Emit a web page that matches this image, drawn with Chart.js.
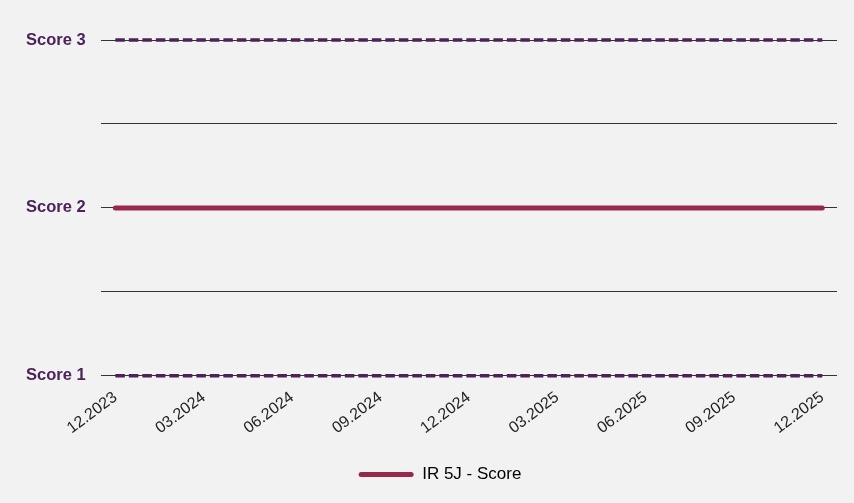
<!DOCTYPE html>
<html><head><meta charset="utf-8">
<script src="https://cdn.jsdelivr.net/npm/chart.js@4/dist/chart.umd.min.js"></script>
<style>html,body{margin:0;padding:0;background:#f2f2f2;}#wrap{width:854px;height:503px;}</style>
</head><body><div id="wrap"><canvas id="c" width="854" height="503"></canvas></div>
<script>
const months = ["12.2023","01.2024","02.2024","03.2024","04.2024","05.2024","06.2024","07.2024","08.2024","09.2024","10.2024","11.2024","12.2024","01.2025","02.2025","03.2025","04.2025","05.2025","06.2025","07.2025","08.2025","09.2025","10.2025","11.2025","12.2025"];
const scoreValues = [2,2,2,2,2,2,2,2,2,2,2,2,2,2,2,2,2,2,2,2,2,2,2,2,2];
const upperBound = [3,3,3,3,3,3,3,3,3,3,3,3,3,3,3,3,3,3,3,3,3,3,3,3,3];
const lowerBound = [1,1,1,1,1,1,1,1,1,1,1,1,1,1,1,1,1,1,1,1,1,1,1,1,1];
const yTickLabels = {1:"Score 1",2:"Score 2",3:"Score 3"};
const seriesName = "IR 5J - Score";

const bg = {id:'bg',beforeDraw(c){const x=c.ctx;x.save();x.fillStyle='#f2f2f2';x.fillRect(0,0,c.width,c.height);x.restore();}};
const legendShift = {id:'legendShift',afterLayout(c){if(c.legend){c.legend.left+=16;c.legend.right+=16;}}};

new Chart(document.getElementById('c'),{
  type:'line',
  data:{labels:months,datasets:[
    {label:seriesName,data:scoreValues,borderColor:'#98294b',backgroundColor:'#98294b',borderWidth:5,borderCapStyle:'round',pointRadius:0,order:1,clip:false},
    {label:'upper',data:upperBound,borderColor:'#4b2358',borderWidth:3.5,borderDash:[9.5,4],pointRadius:0,order:2,clip:false},
    {label:'lower',data:lowerBound,borderColor:'#4b2358',borderWidth:3.5,borderDash:[9.5,4],pointRadius:0,order:2,clip:false}
  ]},
  plugins:[bg,legendShift],
  options:{
    responsive:false,animation:false,
    layout:{padding:{left:11,right:17,top:40,bottom:10}},
    plugins:{
      tooltip:{enabled:false},
      legend:{position:'bottom',labels:{boxWidth:55,boxHeight:5,padding:14,color:'#111',font:{family:'Liberation Sans, Arial',size:17},
        generateLabels:(chart)=>[{text:seriesName,fillStyle:'#98294b',strokeStyle:'#98294b',lineWidth:0,datasetIndex:0,borderRadius:2.5}]}}
    },
    scales:{
      x:{offset:true,grid:{display:false},border:{display:false},
        afterFit:(s)=>{s.height=Math.max(0,s.height+14-(s.height>60?4:0));},
        ticks:{autoSkip:false,minRotation:37,maxRotation:37,color:'#222',padding:4,font:{family:'Liberation Sans, Arial',size:16},
          callback:function(v,i){return i%3===0?this.getLabelForValue(v):null;}}},
      y:{min:1,max:3,border:{display:false},
        grid:{color:'#333',lineWidth:1,drawTicks:false},
        ticks:{stepSize:0.5,padding:15,color:'#4b2358',font:{family:'Liberation Sans, Arial',size:16.5,weight:'bold'},
          callback:(v)=>yTickLabels[v]||''}}
    }
  }
});
</script></body></html>
